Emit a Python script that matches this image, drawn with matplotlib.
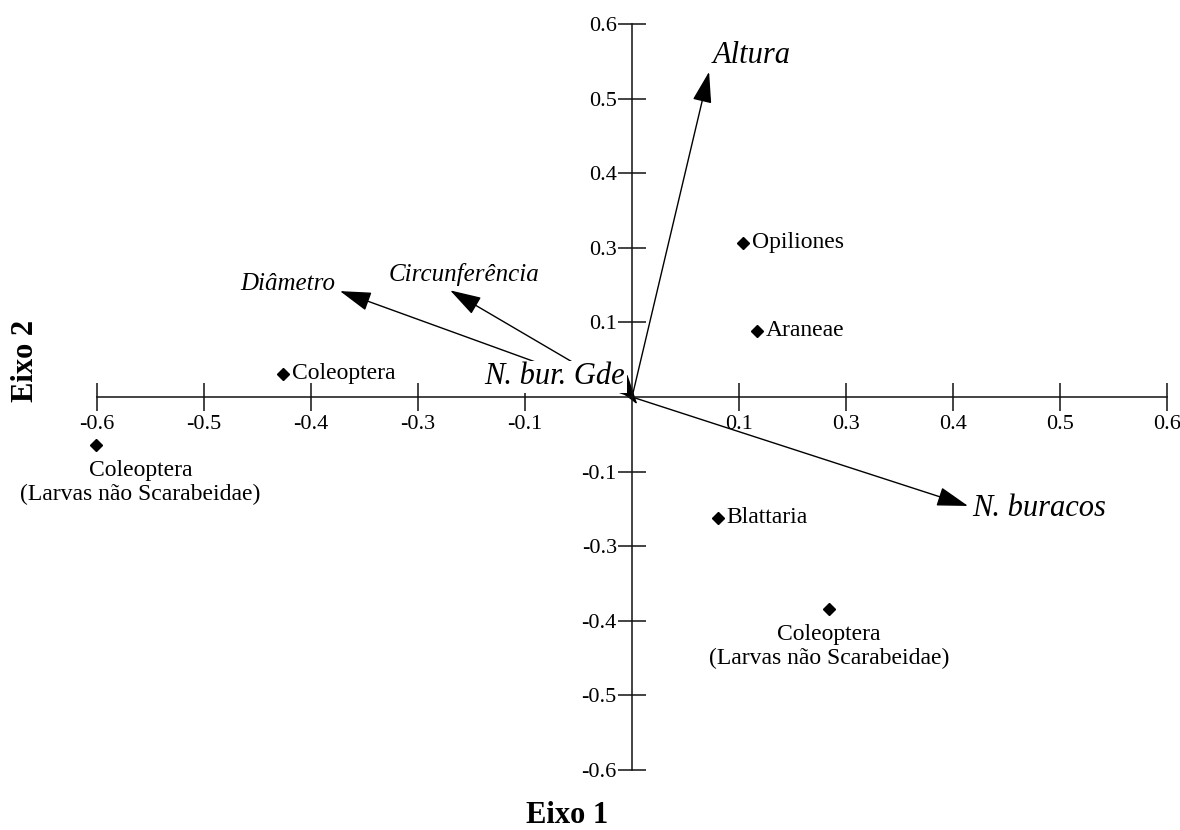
import matplotlib
matplotlib.use("Agg")
import matplotlib.pyplot as plt

# species scores (marker positions)
species = ["Opiliones", "Araneae", "Coleoptera", "Coleoptera\n(Larvas não Scarabeidae)",
           "Blattaria", "Coleoptera\n(Larvas não Scarabeidae)"]
sp_x = [0.104, 0.117, -0.326, -0.501, 0.080, 0.184]
sp_y = [0.207, 0.089, 0.031, -0.064, -0.162, -0.284]

# environmental vectors (arrow tips)
variables = ["Altura", "N. buracos", "Diâmetro", "Circunferência", "N. bur. Gde"]
var_x = [0.072, 0.314, -0.273, -0.170, 0.005]
var_y = [0.436, -0.146, 0.142, 0.143, -0.010]

# tick positions and the labels printed on the original
tick_pos = [-0.5, -0.4, -0.3, -0.2, -0.1, 0.1, 0.2, 0.3, 0.4, 0.5]
tick_lab = ["-0.6", "-0.5", "-0.4", "-0.3", "-0.1", "0.1", "0.3", "0.4", "0.5", "0.6"]

serif = ["Liberation Serif", "DejaVu Serif"]
plt.rcParams["font.family"] = serif

fig = plt.figure(figsize=(11.8, 8.3), dpi=100)
ax = fig.add_axes([0, 0, 1, 1])
ax.set_xlim(-0.5907, 0.5121)
ax.set_ylim(-0.5804, 0.5322)

for s in ["top", "right"]:
    ax.spines[s].set_visible(False)
ax.spines["left"].set_position(("data", 0))
ax.spines["bottom"].set_position(("data", 0))
ax.spines["left"].set_bounds(-0.5, 0.5)
ax.spines["bottom"].set_bounds(-0.5, 0.5)
for s in ["left", "bottom"]:
    ax.spines[s].set_linewidth(1.1)
    ax.spines[s].set_color("#111111")

ax.set_xticks(tick_pos)
ax.set_xticklabels(tick_lab)
ax.set_yticks(tick_pos)
ax.set_yticklabels(tick_lab)
ax.tick_params(direction="inout", length=20, width=1.1, color="#111111",
               labelsize=16, pad=1)
ax.tick_params(axis="x", pad=3)
ax.patch.set_visible(False)

# species points
ax.plot(sp_x, sp_y, "D", color="black", ms=6, zorder=4)
offsets = [(6, 0, "left"), (6, 0, "left"), (6, 0, "left"),
           (32, -27, "center"), (6, 0, "left"), (0, -27, "center")]
for name, x, y, (dx, dy, ha) in zip(species, sp_x, sp_y, offsets):
    ax.annotate(name, (x, y), xytext=(dx, dy), textcoords="offset points",
                ha=ha, va="center", fontsize=17, linespacing=1.2)

# arrows from origin
for x, y in zip(var_x, var_y):
    ax.annotate("", xy=(x, y), xytext=(0, 0),
                arrowprops=dict(arrowstyle="-|>,head_length=1.3,head_width=0.4",
                                mutation_scale=15, lw=1.0, color="black",
                                shrinkA=0, shrinkB=0), zorder=2)

ax.text(0.075, 0.458, "Altura", style="italic", fontsize=22, va="center", ha="left")
ax.text(0.318, -0.149, "N. buracos", style="italic", fontsize=22, va="center", ha="left")
ax.text(-0.322, 0.151, "Diâmetro", style="italic", fontsize=18, va="center", ha="center")
ax.text(-0.157, 0.164, "Circunferência", style="italic", fontsize=18, va="center", ha="center")
ax.text(-0.0065, 0.027, "N. bur. Gde", style="italic", fontsize=22, va="center", ha="right",
        zorder=3, bbox=dict(facecolor="white", edgecolor="none", pad=1))

fig.text(0.481, 0.017, "Eixo 1", fontsize=22, fontweight="bold", ha="center", va="center")
fig.text(0.022, 0.565, "Eixo 2", fontsize=22, fontweight="bold", ha="center", va="center",
         rotation=90)

fig.savefig("out.png", dpi=100)
